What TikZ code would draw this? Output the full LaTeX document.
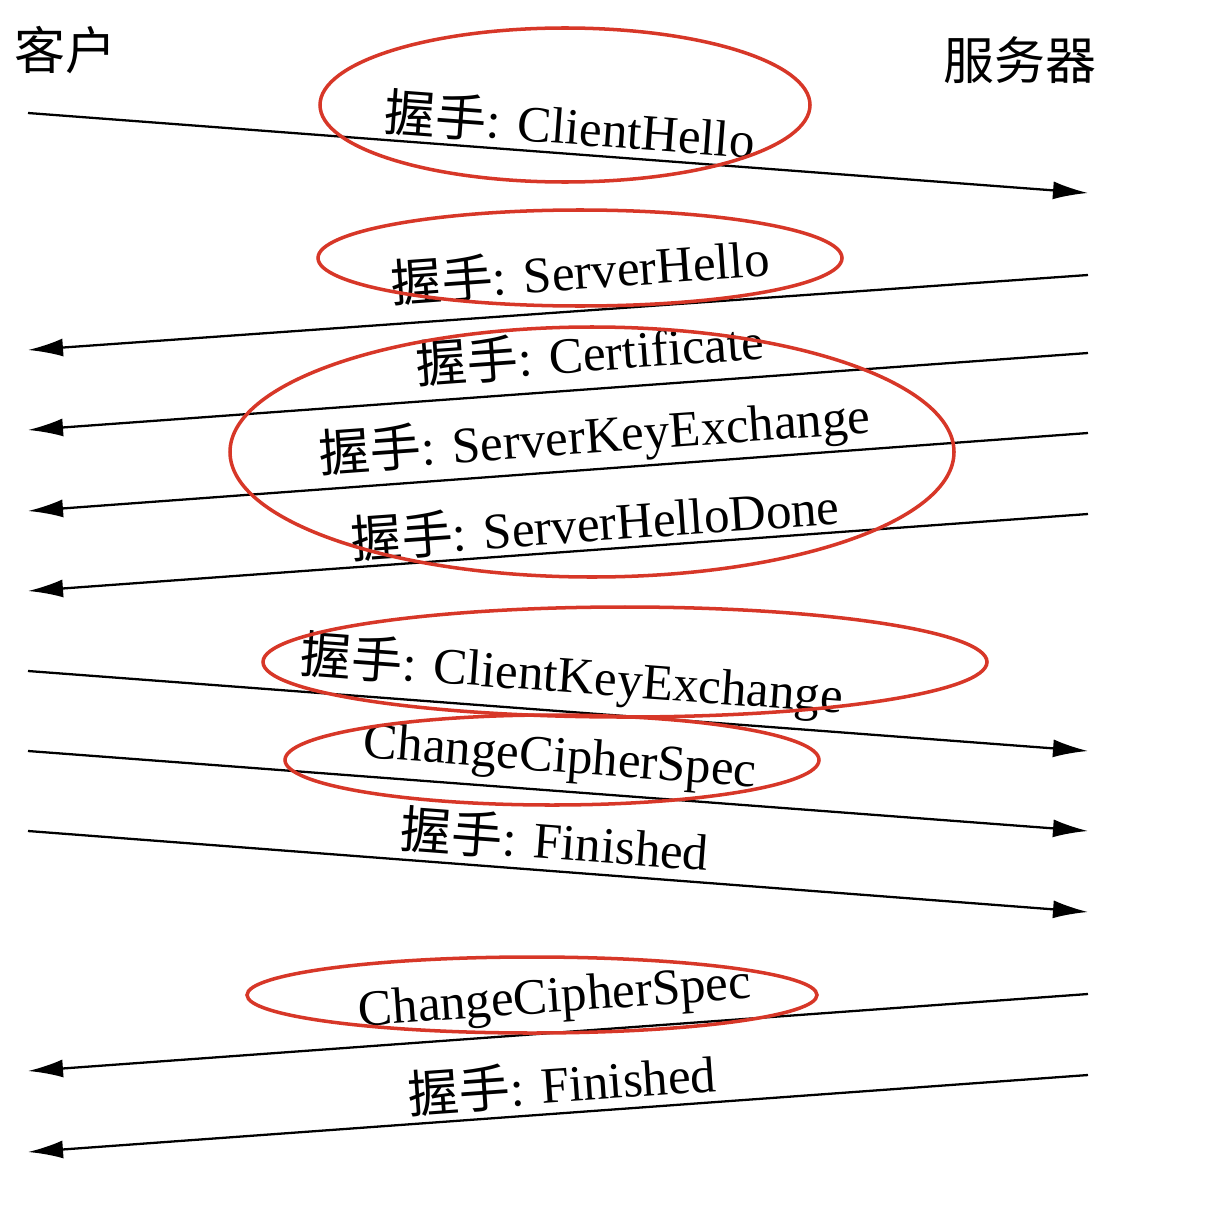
\documentclass[tikz,border=0pt]{standalone}
\usepackage{fontspec}
\setmainfont{Liberation Serif}
\newfontfamily\cjk{Noto Sans CJK SC}
\usetikzlibrary{arrows.meta}
\definecolor{markred}{RGB}{215,55,40}
\tikzset{msg/.style = {line width=1.3pt, -{Latex[length=7mm, width=3.6mm]}},
         lbl/.style = {font=\fontsize{29}{31}\selectfont, inner sep=0pt},
         ring/.style = {draw=markred, line width=2pt}
        }
\newcommand{\ws}{{\cjk 握手}: }
\begin{document}
\begin{tikzpicture}[x=0.02cm, y=-0.02cm]
  \useasboundingbox (0,0) rectangle (1216,1220);
  \node[lbl] (client) at (65,50) {\cjk 客户};
  \node[lbl] (server) at (1020,60) {\cjk 服务器};
  % left and right ends of the messages
  \foreach \n/\y in {a/113, b/350, c/430, d/511, e/591, f/671, g/751, h/831, i/1071, j/1152}
      {\coordinate (L\n) at (28,\y);};
  \foreach \n/\y in {a/193, b/275, c/353, d/433, e/514, f/751, g/831, h/912, i/994, j/1075}
      {\coordinate (R\n) at (1088,\y);};
  \draw[msg] (La) -- (Ra);
  \draw[msg] (Rb) -- (Lb);
  \draw[msg] (Rc) -- (Lc);
  \draw[msg] (Rd) -- (Ld);
  \draw[msg] (Re) -- (Le);
  \draw[msg] (Lf) -- (Rf);
  \draw[msg] (Lg) -- (Rg);
  \draw[msg] (Lh) -- (Rh);
  \draw[msg] (Ri) -- (Li);
  \draw[msg] (Rj) -- (Lj);
  \node[lbl, rotate=-4.3] (t1) at (570,125) {\ws ClientHello};
  \node[lbl, rotate=4.1] (t2) at (580,270) {\ws ServerHello};
  \node[lbl, rotate=4.1] (t3) at (590,352) {\ws Certificate};
  \node[lbl, rotate=4.1] (t4) at (595,437) {\ws ServerKeyExchange};
  \node[lbl, rotate=4.1] (t5) at (595,522) {\ws ServerHelloDone};
  \node[lbl, rotate=-4.3] (t6) at (572,677) {\ws ClientKeyExchange};
  \node[lbl, rotate=-4.3] (t7) at (560,760) {ChangeCipherSpec};
  \node[lbl, rotate=-4.3] (t8) at (555,840) {\ws Finished};
  \node[lbl, rotate=4.1] (t9) at (555,1000) {ChangeCipherSpec};
  \node[lbl, rotate=4.1] (t10) at (562,1083) {\ws Finished};
  % red marks
  \draw[ring] (565,105) ellipse [x radius=245, y radius=77];
  \draw[ring] (580,258) ellipse [x radius=262, y radius=48];
  \draw[ring] (592,452) ellipse [x radius=362, y radius=125];
  \draw[ring] (625,662) ellipse [x radius=362, y radius=55];
  \draw[ring] (552,760) ellipse [x radius=267, y radius=45];
  \draw[ring] (532,995) ellipse [x radius=285, y radius=38];
\end{tikzpicture}
\end{document}
